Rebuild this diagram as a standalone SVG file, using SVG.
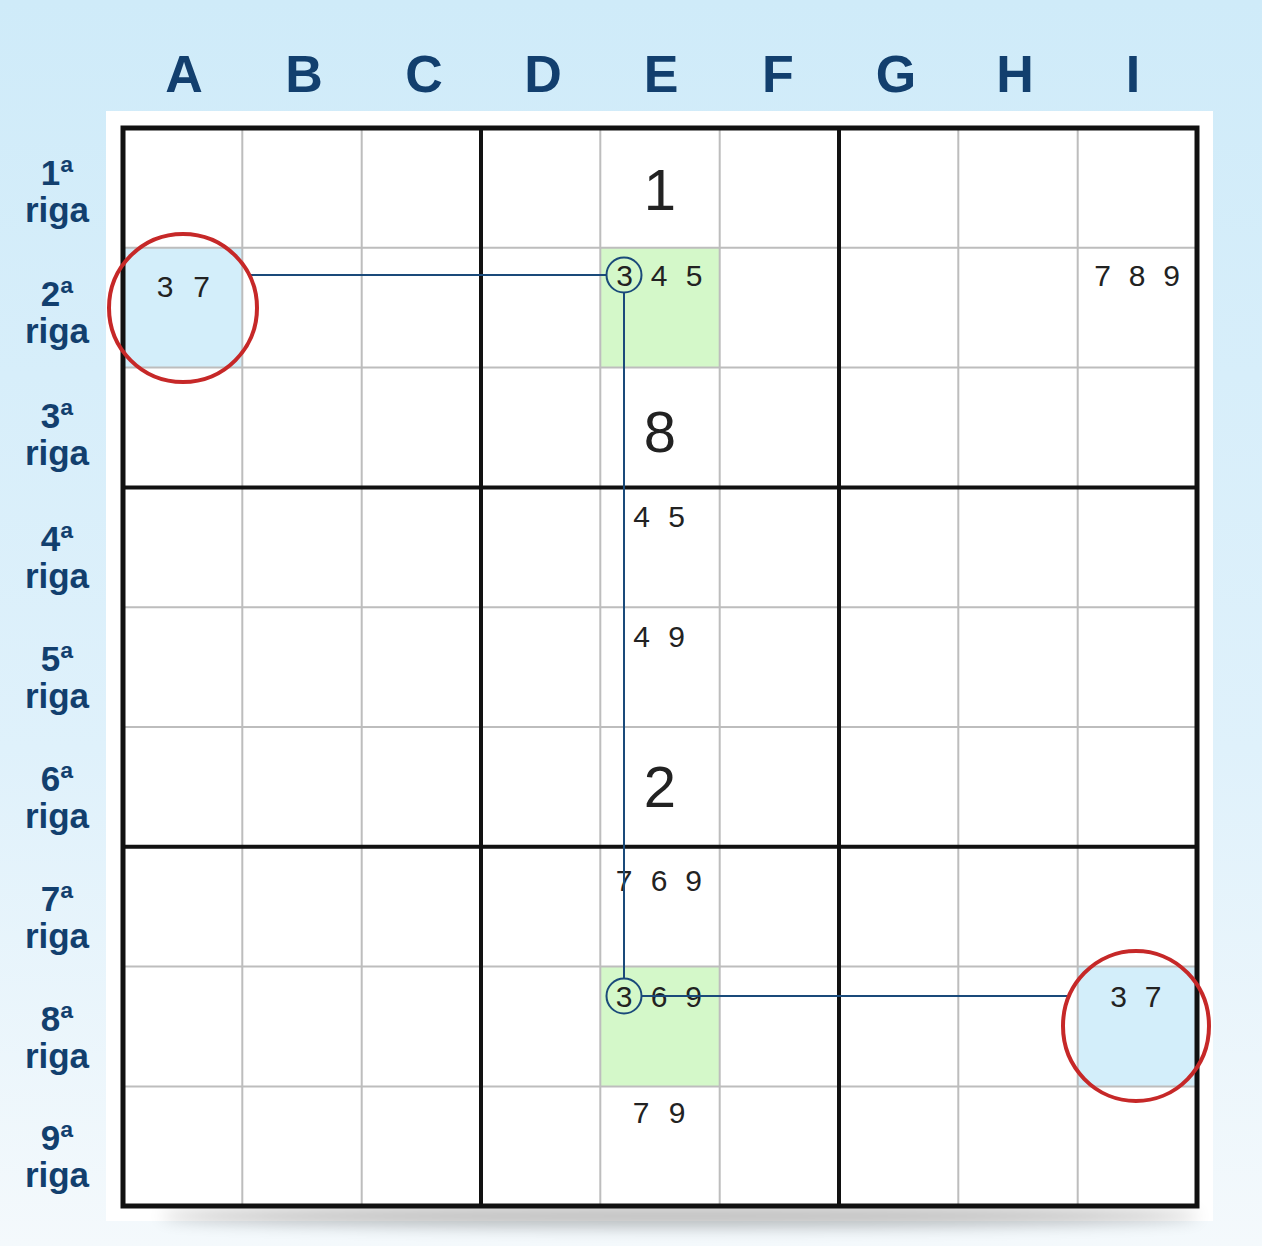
<svg xmlns="http://www.w3.org/2000/svg" width="1262" height="1246" viewBox="0 0 1262 1246">
<defs>
<linearGradient id="bg" x1="0" y1="0" x2="0" y2="1">
<stop offset="0" stop-color="#cfebf9"/>
<stop offset="0.6" stop-color="#dff1fb"/>
<stop offset="1" stop-color="#f4f9fc"/>
</linearGradient>
<filter id="blur" x="-20%" y="-200%" width="140%" height="500%"><feGaussianBlur stdDeviation="8"/></filter>
<style>
.col{font-family:"Liberation Sans",Arial,sans-serif;font-weight:bold;font-size:52px;fill:#123f6e;text-anchor:middle}
.row{font-family:"Liberation Sans",Arial,sans-serif;font-weight:bold;font-size:35px;fill:#123f6e;text-anchor:middle}
.big{font-family:"Liberation Sans",Arial,sans-serif;font-size:58px;fill:#222;text-anchor:middle}
.cand{font-family:"Liberation Sans",Arial,sans-serif;font-size:30px;fill:#222;text-anchor:middle}
.thin{stroke:#bdbdbd;stroke-width:2;fill:none}
.thick{stroke:#111;stroke-width:4;fill:none}
.link{stroke:#1a4a7a;stroke-width:2;fill:none}
.ring{stroke:#c62828;stroke-width:4;fill:none}
.blue{fill:#d3eefa}
.green{fill:#d4f8c9}
</style>
</defs>
<rect x="0" y="0" width="1262" height="1246" fill="url(#bg)"/>
<rect x="106" y="111" width="1107" height="1110" fill="#ffffff"/>
<ellipse cx="680" cy="1216" rx="520" ry="11" fill="#000" opacity="0.25" filter="url(#blur)"/>
<rect x="123" y="128" width="1074" height="1078" fill="#ffffff"/>

<g id="labels-columns">
<text class="col" x="184" y="92">A</text>
<text class="col" x="304" y="92">B</text>
<text class="col" x="424" y="92">C</text>
<text class="col" x="543" y="92">D</text>
<text class="col" x="661" y="92">E</text>
<text class="col" x="778" y="92">F</text>
<text class="col" x="896" y="92">G</text>
<text class="col" x="1015" y="92">H</text>
<text class="col" x="1133" y="92">I</text>
</g>
<g id="labels-rows">
<text class="row" x="57" y="185">1ª</text><text class="row" x="57" y="222">riga</text>
<text class="row" x="57" y="306">2ª</text><text class="row" x="57" y="343">riga</text>
<text class="row" x="57" y="428">3ª</text><text class="row" x="57" y="465">riga</text>
<text class="row" x="57" y="551">4ª</text><text class="row" x="57" y="588">riga</text>
<text class="row" x="57" y="671">5ª</text><text class="row" x="57" y="708">riga</text>
<text class="row" x="57" y="791">6ª</text><text class="row" x="57" y="828">riga</text>
<text class="row" x="57" y="911">7ª</text><text class="row" x="57" y="948">riga</text>
<text class="row" x="57" y="1031">8ª</text><text class="row" x="57" y="1068">riga</text>
<text class="row" x="57" y="1150">9ª</text><text class="row" x="57" y="1187">riga</text>
</g>

<g id="highlights">
<rect class="blue" x="124" y="248" width="118" height="119"/>
<rect class="blue" x="1078" y="967" width="118" height="119"/>
<rect class="green" x="601" y="248" width="118" height="119"/>
<rect class="green" x="601" y="967" width="118" height="119"/>
</g>

<g id="grid">
<path class="thin" d="M242.3 128V1206M361.7 128V1206M600.3 128V1206M719.7 128V1206M958.3 128V1206M1077.7 128V1206M123 247.8H1197M123 367.6H1197M123 607.2H1197M123 727H1197M123 966.6H1197M123 1086.4H1197"/>
<path class="thick" d="M481 128V1206M839 128V1206M123 487.4H1197M123 846.8H1197"/>
<rect x="123" y="128" width="1074" height="1078" fill="none" stroke="#111" stroke-width="5"/>
</g>

<g id="cell-E1"><text class="big" x="660" y="210">1</text></g>
<g id="cell-E3"><text class="big" x="660" y="452">8</text></g>
<g id="cell-E6"><text class="big" x="660" y="807">2</text></g>
<g id="cell-A2"><text class="cand" x="165 183 201.5" y="297">3 7</text></g>
<g id="cell-E2"><text class="cand" x="624.5 642 659 677 694" y="285.5">3 4 5</text></g>
<g id="cell-I2"><text class="cand" x="1102.5 1120 1137 1154 1171.5" y="286">7 8 9</text></g>
<g id="cell-E4"><text class="cand" x="641.7 659 676.7" y="527">4 5</text></g>
<g id="cell-E5"><text class="cand" x="641.7 659 676.7" y="647">4 9</text></g>
<g id="cell-E7"><text class="cand" x="624 641 659 676 693.5" y="890.5">7 6 9</text></g>
<g id="cell-E8"><text class="cand" x="624 641 659 676 693.5" y="1006.5">3 6 9</text></g>
<g id="cell-E9"><text class="cand" x="641 659 677" y="1123">7 9</text></g>
<g id="cell-I8"><text class="cand" x="1118.7 1136 1153" y="1006.5">3 7</text></g>

<g id="connectors">
<path class="link" d="M248 275H606.5"/>
<path class="link" d="M624 292.5V978"/>
<path class="link" d="M641.5 996H1068"/>
<circle class="link" cx="624" cy="275" r="17.5"/>
<circle class="link" cx="624" cy="996" r="17.5"/>
</g>

<g id="marks">
<ellipse class="ring" cx="183" cy="308" rx="74" ry="74"/>
<ellipse class="ring" cx="1136" cy="1026" rx="73" ry="75"/>
</g>
</svg>
